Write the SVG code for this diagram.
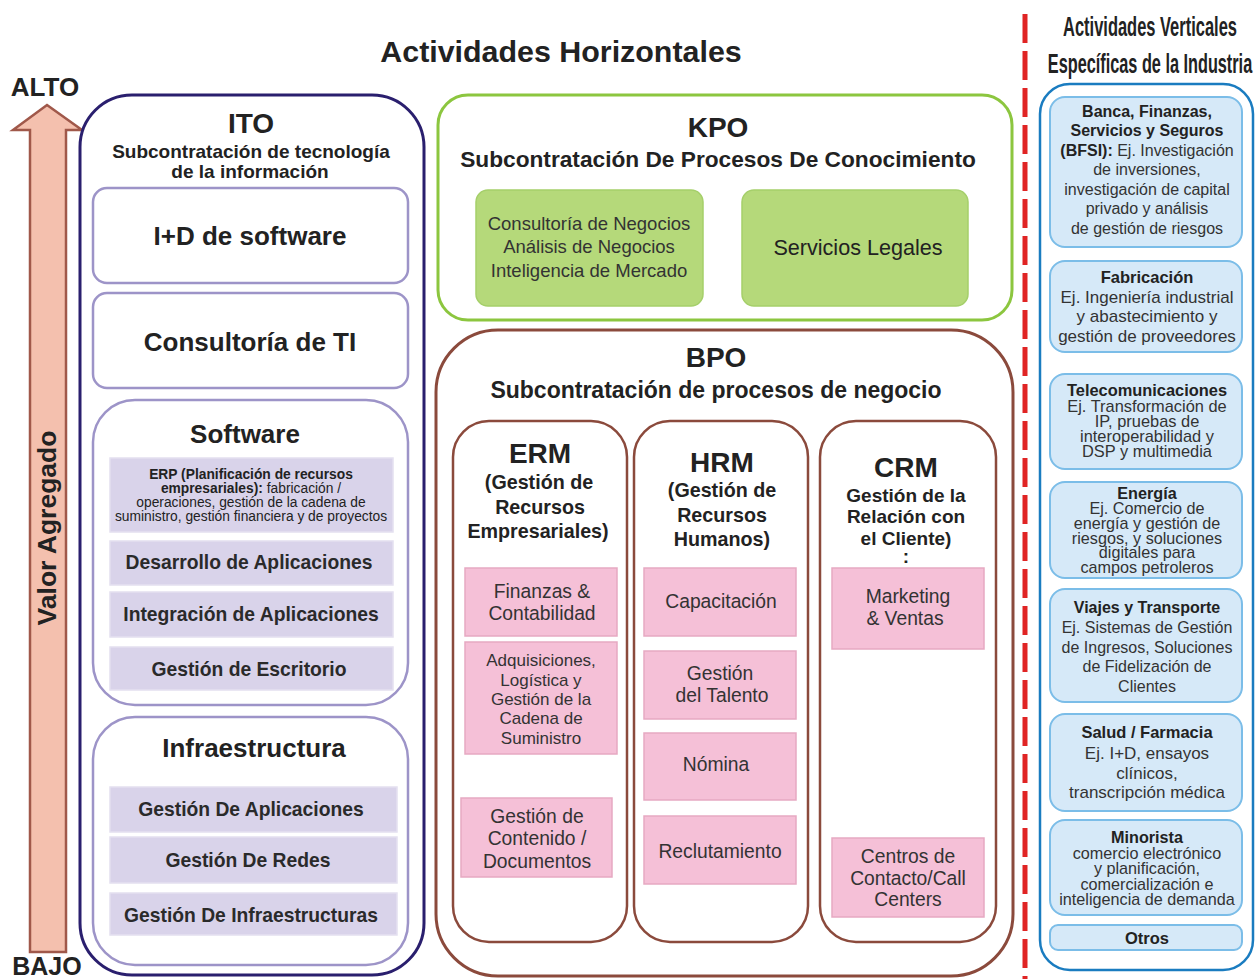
<svg xmlns="http://www.w3.org/2000/svg" width="1258" height="979" viewBox="0 0 1258 979">
<style>
text{font-family:"Liberation Sans",Arial,sans-serif;fill:#222;text-anchor:middle}
.b{font-weight:bold}
.t{font-size:28px;font-weight:bold}
.ito-in{fill:#fff;stroke:#9d94c8;stroke-width:2.5}
.lav{fill:#d9d3ea;stroke:#e4e0f0;stroke-width:1.5}
.lavt{font-size:19.3px;font-weight:bold;fill:#2a2a2a}
.kbox{fill:#b5d97a;stroke:#a5cf6a;stroke-width:1.5}
.kt{font-size:18.5px;fill:#333}
.col{fill:#fff;stroke:#8b4a3c;stroke-width:2.5}
.pink{fill:#f5c0d7;stroke:#e6a9c2;stroke-width:1.5}
.pt{font-size:19.3px;fill:#333}
.ps{font-size:17px;fill:#333}
.blue{fill:#d6e9f8;stroke:#7bbde8;stroke-width:2}
.bt{fill:#333}
.btb{font-weight:bold;fill:#222}
</style>

<g id="arrow-valor">
<polygon points="47,105 82,130 66,130 66,952 30,952 30,130 13,130" fill="#f4c0ae" stroke="#a0584a" stroke-width="2.5"/>
<text x="45" y="96" font-size="26" class="b">ALTO</text>
<text x="47" y="975" font-size="25" class="b">BAJO</text>
<text transform="translate(56,528) rotate(-90)" font-size="26.5" class="b">Valor Agregado</text>
</g>

<g id="title-horizontal">
<text x="561" y="62" font-size="30.4" class="b">Actividades Horizontales</text>
</g>

<g id="ITO">
<rect x="80" y="95" width="344" height="880" rx="52" fill="#fff" stroke="#2a1f6e" stroke-width="3"/>
<text x="251" y="133" class="t">ITO</text>
<text x="251" y="158" font-size="19" class="b">Subcontratación de tecnología</text>
<text x="250" y="178" font-size="19" class="b">de la información</text>
</g>
<g id="ito-id-software">
<rect class="ito-in" x="93" y="188" width="315" height="95" rx="14"/>
<text x="250" y="245" font-size="26" class="b">I+D de software</text>
</g>
<g id="ito-consultoria">
<rect class="ito-in" x="93" y="293" width="315" height="95" rx="14"/>
<text x="250" y="351" font-size="26" class="b">Consultoría de TI</text>
</g>
<g id="ito-software">
<rect class="ito-in" x="93" y="400" width="315" height="305" rx="42"/>
<text x="245" y="443" font-size="26" class="b">Software</text>
<rect class="lav" x="110" y="458" width="283" height="74"/>
<text x="251" y="479" font-size="13.8" class="b">ERP (Planificación de recursos</text>
<text x="251" y="493" font-size="13.8"><tspan class="b">empresariales):</tspan> fabricación /</text>
<text x="251" y="507" font-size="13.8">operaciones, gestión de la cadena de</text>
<text x="251" y="521" font-size="13.8">suministro, gestión financiera y de proyectos</text>
<rect class="lav" x="110" y="541" width="283" height="44"/>
<text x="249" y="569" class="lavt">Desarrollo de Aplicaciones</text>
<rect class="lav" x="110" y="592" width="283" height="45"/>
<text x="251" y="621" class="lavt">Integración de Aplicaciones</text>
<rect class="lav" x="110" y="647" width="283" height="43"/>
<text x="249" y="676" class="lavt">Gestión de Escritorio</text>
</g>
<g id="ito-infraestructura">
<rect class="ito-in" x="93" y="717" width="315" height="248" rx="42"/>
<text x="254" y="757" font-size="26" class="b">Infraestructura</text>
<rect class="lav" x="110" y="787" width="287" height="45"/>
<text x="251" y="816" class="lavt">Gestión De Aplicaciones</text>
<rect class="lav" x="110" y="837" width="287" height="46"/>
<text x="248" y="867" class="lavt">Gestión De Redes</text>
<rect class="lav" x="110" y="893" width="287" height="42"/>
<text x="251" y="922" class="lavt">Gestión De Infraestructuras</text>
</g>

<g id="KPO">
<rect x="438" y="95" width="574" height="225" rx="30" fill="#fff" stroke="#8cc63f" stroke-width="3"/>
<text x="718" y="137" class="t">KPO</text>
<text x="718" y="167" font-size="22.7" class="b">Subcontratación De Procesos De Conocimiento</text>
</g>
<g id="kpo-consultoria">
<rect class="kbox" x="476" y="190" width="227" height="116" rx="12"/>
<text x="589" y="230" class="kt">Consultoría de Negocios</text>
<text x="589" y="253" class="kt">Análisis de Negocios</text>
<text x="589" y="277" class="kt">Inteligencia de Mercado</text>
</g>
<g id="kpo-legales">
<rect class="kbox" x="742" y="190" width="226" height="116" rx="12"/>
<text x="858" y="255" font-size="21.6" fill="#333">Servicios Legales</text>
</g>

<g id="BPO">
<rect x="436" y="330" width="577" height="646" rx="62" fill="#fff" stroke="#8b4a3c" stroke-width="3"/>
<text x="716" y="367" class="t">BPO</text>
<text x="716" y="398" font-size="23" class="b">Subcontratación de procesos de negocio</text>
</g>
<g id="bpo-erm">
<rect class="col" x="453" y="421" width="174" height="521" rx="36"/>
<text x="540" y="463" class="t">ERM</text>
<text x="539" y="489" font-size="19.7" class="b">(Gestión de</text>
<text x="540" y="514" font-size="19.7" class="b">Recursos</text>
<text x="538" y="538" font-size="19.7" class="b">Empresariales)</text>
<rect class="pink" x="465" y="568" width="152" height="68"/>
<text x="542" y="598" class="pt">Finanzas &amp;</text>
<text x="542" y="620" class="pt">Contabilidad</text>
<rect class="pink" x="465" y="642" width="152" height="112"/>
<text x="541" y="666" class="ps">Adquisiciones,</text>
<text x="541" y="686" class="ps">Logística y</text>
<text x="541" y="705" class="ps">Gestión de la</text>
<text x="541" y="724" class="ps">Cadena de</text>
<text x="541" y="744" class="ps">Suministro</text>
<rect class="pink" x="461" y="798" width="151" height="79"/>
<text x="537" y="823" class="pt">Gestión de</text>
<text x="537" y="845" class="pt">Contenido /</text>
<text x="537" y="868" class="pt">Documentos</text>
</g>
<g id="bpo-hrm">
<rect class="col" x="634" y="421" width="174" height="521" rx="36"/>
<text x="722" y="472" class="t">HRM</text>
<text x="722" y="497" font-size="19.7" class="b">(Gestión de</text>
<text x="722" y="522" font-size="19.7" class="b">Recursos</text>
<text x="722" y="546" font-size="19.7" class="b">Humanos)</text>
<rect class="pink" x="644" y="568" width="152" height="68"/>
<text x="721" y="608" class="pt">Capacitación</text>
<rect class="pink" x="644" y="651" width="152" height="68"/>
<text x="720" y="680" class="pt">Gestión</text>
<text x="722" y="702" class="pt">del Talento</text>
<rect class="pink" x="644" y="733" width="152" height="67"/>
<text x="716" y="771" class="pt">Nómina</text>
<rect class="pink" x="644" y="816" width="152" height="68"/>
<text x="720" y="858" class="pt">Reclutamiento</text>
</g>
<g id="bpo-crm">
<rect class="col" x="820" y="421" width="176" height="521" rx="36"/>
<text x="906" y="477" class="t">CRM</text>
<text x="906" y="502" font-size="19" class="b">Gestión de la</text>
<text x="906" y="523" font-size="19" class="b">Relación con</text>
<text x="906" y="545" font-size="19" class="b">el Cliente)</text>
<text x="906" y="563" font-size="19" class="b">:</text>
<rect class="pink" x="832" y="568" width="152" height="81"/>
<text x="908" y="603" class="pt">Marketing</text>
<text x="905" y="625" class="pt">&amp; Ventas</text>
<rect class="pink" x="832" y="838" width="152" height="79"/>
<text x="908" y="863" class="pt">Centros de</text>
<text x="908" y="885" class="pt">Contacto/Call</text>
<text x="908" y="906" class="pt">Centers</text>
</g>

<g id="connectors">
<line x1="1025" y1="14" x2="1025" y2="979" stroke="#e02424" stroke-width="5" stroke-dasharray="29,8"/>
</g>

<g id="title-vertical">
<text transform="translate(1150,36) scale(0.61,1)" font-size="27" class="b">Actividades Verticales</text>
<text transform="translate(1150,73) scale(0.603,1)" font-size="27" class="b">Específicas de la Industria</text>
</g>

<g id="verticales">
<rect x="1040" y="84" width="213" height="886" rx="30" fill="#fff" stroke="#1a7cc0" stroke-width="2.5"/>
</g>
<g id="v-bfsi" font-size="16">
<rect class="blue" x="1050" y="97" width="192" height="150" rx="15"/>
<text x="1147" y="117" class="btb">Banca, Finanzas,</text>
<text x="1147" y="136" class="btb">Servicios y Seguros</text>
<text x="1147" y="156" class="bt"><tspan class="btb">(BFSI):</tspan> Ej. Investigación</text>
<text x="1147" y="175" class="bt">de inversiones,</text>
<text x="1147" y="195" class="bt">investigación de capital</text>
<text x="1147" y="214" class="bt">privado y análisis</text>
<text x="1147" y="234" class="bt">de gestión de riesgos</text>
</g>
<g id="v-fabricacion" font-size="17">
<rect class="blue" x="1050" y="261" width="192" height="91" rx="15"/>
<text x="1147" y="283" class="btb" font-size="16.5">Fabricación</text>
<text x="1147" y="303" class="bt">Ej. Ingeniería industrial</text>
<text x="1147" y="322" class="bt">y abastecimiento y</text>
<text x="1147" y="342" class="bt">gestión de proveedores</text>
</g>
<g id="v-telecom" font-size="16.4">
<rect class="blue" x="1050" y="374" width="192" height="95" rx="15"/>
<text x="1147" y="396" class="btb">Telecomunicaciones</text>
<text x="1147" y="412" class="bt">Ej. Transformación de</text>
<text x="1147" y="427" class="bt">IP, pruebas de</text>
<text x="1147" y="442" class="bt">interoperabilidad y</text>
<text x="1147" y="457" class="bt">DSP y multimedia</text>
</g>
<g id="v-energia" font-size="16.2">
<rect class="blue" x="1050" y="482" width="192" height="96" rx="15"/>
<text x="1147" y="499" class="btb">Energía</text>
<text x="1147" y="514" class="bt">Ej. Comercio de</text>
<text x="1147" y="529" class="bt">energía y gestión de</text>
<text x="1147" y="544" class="bt">riesgos, y soluciones</text>
<text x="1147" y="558" class="bt">digitales para</text>
<text x="1147" y="573" class="bt">campos petroleros</text>
</g>
<g id="v-viajes" font-size="16">
<rect class="blue" x="1050" y="589" width="192" height="113" rx="15"/>
<text x="1147" y="613" class="btb">Viajes y Transporte</text>
<text x="1147" y="633" class="bt">Ej. Sistemas de Gestión</text>
<text x="1147" y="653" class="bt">de Ingresos, Soluciones</text>
<text x="1147" y="672" class="bt">de Fidelización de</text>
<text x="1147" y="692" class="bt">Clientes</text>
</g>
<g id="v-salud" font-size="17">
<rect class="blue" x="1050" y="714" width="192" height="97" rx="15"/>
<text x="1147" y="738" class="btb" font-size="16.5">Salud / Farmacia</text>
<text x="1147" y="759" class="bt">Ej. I+D, ensayos</text>
<text x="1147" y="779" class="bt">clínicos,</text>
<text x="1147" y="798" class="bt">transcripción médica</text>
</g>
<g id="v-minorista" font-size="16.2">
<rect class="blue" x="1050" y="820" width="192" height="95" rx="15"/>
<text x="1147" y="843" class="btb">Minorista</text>
<text x="1147" y="859" class="bt">comercio electrónico</text>
<text x="1147" y="874" class="bt">y planificación,</text>
<text x="1147" y="890" class="bt">comercialización e</text>
<text x="1147" y="905" class="bt">inteligencia de demanda</text>
</g>
<g id="v-otros" font-size="16.5">
<rect class="blue" x="1050" y="925" width="192" height="25" rx="8"/>
<text x="1147" y="944" class="btb">Otros</text>
</g>
</svg>
